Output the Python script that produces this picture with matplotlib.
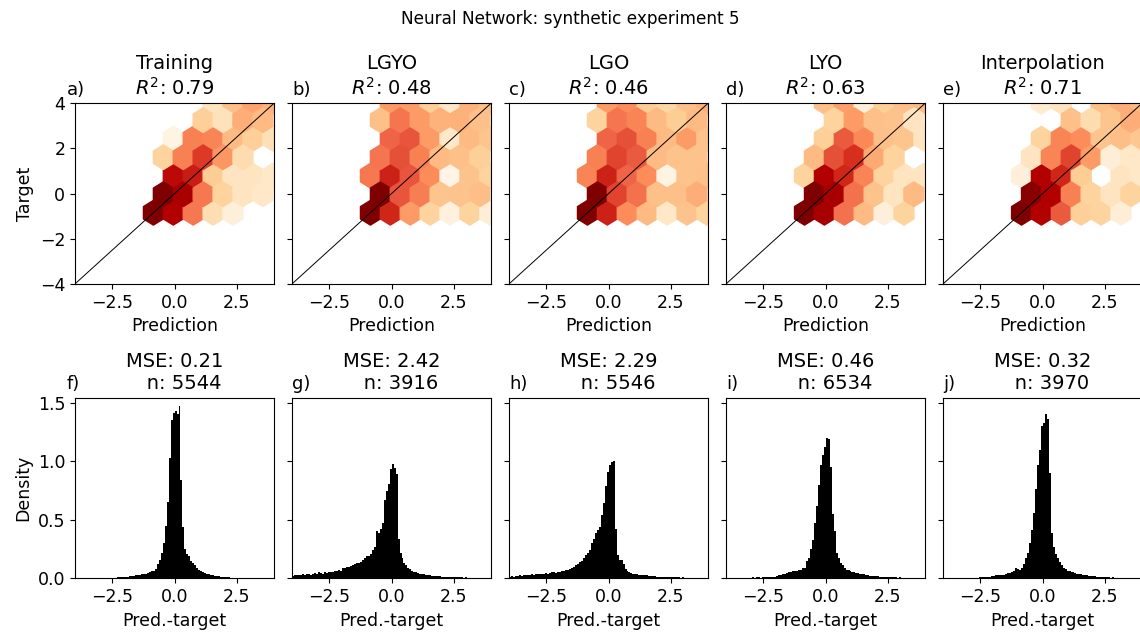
import numpy as np
import matplotlib
matplotlib.use("Agg")
import matplotlib.pyplot as plt

plt.rcParams["font.size"] = 12.5

# panel names and scores
splits = ["Training", "LGYO", "LGO", "LYO", "Interpolation"]
r2_scores = [0.79, 0.48, 0.46, 0.63, 0.71]
mse_scores = [0.21, 2.42, 2.29, 0.46, 0.32]
n_points = [5544, 3916, 5546, 6534, 3970]
top_letters = ["a)", "b)", "c)", "d)", "e)"]
bottom_letters = ["f)", "g)", "h)", "i)", "j)"]

# hexbin cell values (log-count level), rows bottom->top, None = empty cell
# even rows: 7 cells, odd rows (half offset): 6 cells
hex_a = [[8, 7, 4.5, 1.5, 0.5, None, None],
         [8, 7.2, 4.5, 2, 1.2, 1],
         [None, 6.8, 6.4, 2.3, 1.2, 1.2, 1],
         [2, 4.3, 5.8, 3.8, 1.6, None],
         [None, 0.3, 4.3, 4.2, 3, 2.2, 1.4],
         [None, None, 2.2, 1.3, 3.3, 3],
         [None, None, None, 1.2, 2.8, 3.5, 3.2]]
hex_b = [[8, 6.2, 3.7, 2, 0.4, 2, 0.6],
         [8, 5.3, 4.4, 2.6, 2.7, 2.9],
         [4.5, 6.3, 5.3, 4, 0.2, 2.7, 2],
         [4.6, 5.4, 4.3, 3, 2.8, 2.2],
         [None, 5, 5.3, 3.7, 1, 3, 2.6],
         [2.8, 4.6, 3.7, 3.2, 3.2, 2.8],
         [None, 3.7, 3.7, 2.2, 1, 3.2, 2.8]]
hex_c = [[8, 6.3, 4, 3, 1, 2.7, 2],
         [8, 5.6, 4.7, 2.8, 2.8, 3.3],
         [4.2, 6.3, 5, 4, 0.3, 2.7, 2.8],
         [4.3, 5.6, 5.2, 3, 2.7, 2.7],
         [None, 5, 5.4, 4.3, 3, 3.7, 2.7],
         [2, 4.6, 4.2, 3, 2.3, 3],
         [None, 3.7, 4, 2.3, 1.8, 2.8, 3.2]]
hex_d = [[8, 7.2, 4.7, 3, 0.5, 2, None],
         [8, 7.2, 4.7, 2.7, 1.2, 3],
         [2, 7, 6.2, 4.2, 2, 1.2, 1.2],
         [3, 5.4, 6, 3.4, 2, None],
         [None, 2.2, 5.2, 4.1, 2.8, 2.6, 1.2],
         [None, 2, 3.7, 2.8, 2.7, 1.2],
         [None, 2.8, 3.6, 0.5, 2.2, 2.8, 3]]
hex_e = [[8, 7, 5.2, 2.2, 2, 0.6, None],
         [7.8, 7, 4.3, 2, 1.2, 2],
         [0.5, 7, 6.2, 2.3, None, 1.2, 1],
         [1.2, 4.2, 5.6, 3.7, 0.6, 1],
         [None, 2, 4.2, 4, 2.6, 2.9, 2.5],
         [None, None, 2.8, 1.6, 2.6, 3.3],
         [None, 0.8, 1.2, None, 2.8, 3.3, 3]]
hex_grids = [hex_a, hex_b, hex_c, hex_d, hex_e]

# histogram densities, 100 bins of width 0.08 from -4 to 4
hist_f = [0] * 12 + [0.002, 0.0, 0.003, 0.002, 0.004, 0.003, 0.005, 0.004,
          0.006, 0.007, 0.008, 0.01, 0.01,
          0.012, 0.014, 0.016, 0.018, 0.02,
          0.024, 0.028, 0.03, 0.035, 0.033,
          0.04, 0.045, 0.05, 0.06, 0.065,
          0.08, 0.12, 0.16, 0.22, 0.30, 0.45, 0.65, 1.03, 1.35, 1.41, 1.43, 1.40, 1.47,
          0.84, 0.44, 0.25, 0.21, 0.19, 0.15, 0.13, 0.11, 0.09, 0.07, 0.06,
          0.05, 0.045, 0.04, 0.035, 0.03,
          0.025, 0.02, 0.02, 0.018, 0.015,
          0.012, 0.01, 0.01, 0.008, 0.006,
          0.005, 0.006, 0.004, 0.003, 0.004, 0.003, 0.002,
          0.002, 0.003, 0.001, 0.002, 0.001, 0, 0] + [0] * 7
hist_g = [0.02, 0.025, 0.03, 0.025, 0.03, 0.035, 0.03, 0.04, 0.035, 0.03,
          0.04, 0.045, 0.04, 0.05, 0.045, 0.04, 0.05, 0.045, 0.05, 0.05,
          0.055, 0.06, 0.06, 0.07, 0.065,
          0.09, 0.09, 0.1, 0.1, 0.105,
          0.11, 0.12, 0.13, 0.13, 0.14,
          0.16, 0.17, 0.19, 0.19, 0.21,
          0.24, 0.27, 0.40, 0.39, 0.42, 0.47, 0.67, 0.75, 0.81, 0.93, 0.98, 0.94, 0.89,
          0.34, 0.22, 0.17, 0.13, 0.11, 0.09, 0.08,
          0.06, 0.055, 0.05, 0.045, 0.04,
          0.035, 0.033, 0.03, 0.028, 0.025,
          0.022, 0.02, 0.02, 0.018, 0.016,
          0.014, 0.012, 0.012, 0.01, 0.01,
          0.008, 0.01, 0.008, 0.007, 0.009, 0.007, 0.006, 0.008, 0.006, 0.005,
          0.006, 0.005, 0.004, 0.005, 0.004, 0.003, 0.004, 0.003, 0.002, 0.002]
hist_h = [0.015, 0.02, 0.015, 0.02, 0.02, 0.025, 0.02, 0.025, 0.03, 0.025,
          0.03, 0.035, 0.03, 0.04, 0.035, 0.035, 0.04, 0.035, 0.045, 0.04,
          0.045, 0.05, 0.05, 0.045, 0.05,
          0.055, 0.06, 0.065, 0.07, 0.07,
          0.08, 0.09, 0.1, 0.11, 0.12,
          0.14, 0.15, 0.17, 0.2, 0.22,
          0.24, 0.30, 0.34, 0.39, 0.41, 0.44, 0.54, 0.64, 0.79, 0.91, 0.97, 0.99, 1.0,
          0.42, 0.2, 0.16, 0.16, 0.12, 0.08, 0.065,
          0.05, 0.045, 0.04, 0.035, 0.035,
          0.03, 0.03, 0.028, 0.025, 0.025,
          0.02, 0.02, 0.018, 0.016, 0.015,
          0.014, 0.012, 0.013, 0.011, 0.01,
          0.01, 0.009, 0.008, 0.009, 0.007, 0.008, 0.006, 0.007, 0.006, 0.005,
          0.005, 0.006, 0.004, 0.005, 0.004, 0.004, 0.003, 0.004, 0.003, 0.003]
hist_i = [0.003, 0.004, 0.003, 0.005, 0.004, 0.003, 0.005, 0.004, 0.006, 0.005,
          0.004, 0.006, 0.005, 0.007, 0.006,
          0.007, 0.008, 0.006, 0.009, 0.01,
          0.012, 0.01, 0.013, 0.015, 0.014,
          0.02, 0.025, 0.03, 0.035, 0.04,
          0.045, 0.05, 0.055, 0.06, 0.06,
          0.065, 0.07, 0.075, 0.085, 0.09,
          0.15, 0.17, 0.25, 0.33, 0.47, 0.62, 0.8, 0.97, 1.05, 1.12, 1.2, 1.19, 0.95,
          0.55, 0.4, 0.22, 0.17, 0.13, 0.11, 0.09,
          0.075, 0.07, 0.06, 0.055, 0.05,
          0.045, 0.043, 0.04, 0.04, 0.035,
          0.03, 0.025, 0.022, 0.02, 0.018,
          0.02, 0.016, 0.015, 0.012, 0.013,
          0.01, 0.011, 0.009, 0.008, 0.009, 0.007, 0.006, 0.007, 0.005, 0.006,
          0.005, 0.004, 0.005, 0.003, 0.004, 0.003, 0.003, 0.002, 0.002, 0.002]
hist_j = [0, 0, 0, 0.001, 0, 0.002, 0.001, 0.002, 0.002, 0.003,
          0.002, 0.003, 0.004, 0.003, 0.004,
          0.005, 0.006, 0.005, 0.008, 0.009,
          0.012, 0.01, 0.014, 0.015, 0.018,
          0.022, 0.025, 0.028, 0.03, 0.027,
          0.032, 0.04, 0.045, 0.045, 0.05,
          0.06, 0.085, 0.08, 0.075, 0.09,
          0.12, 0.17, 0.22, 0.3, 0.41, 0.56, 0.76, 0.97, 1.1, 1.3, 1.33, 1.4, 1.36,
          0.9, 0.39, 0.27, 0.21, 0.17, 0.14, 0.11, 0.09, 0.08, 0.065, 0.06,
          0.055, 0.05, 0.045, 0.04, 0.04, 0.035,
          0.03, 0.028, 0.025, 0.022, 0.02,
          0.018, 0.016, 0.015, 0.012, 0.01,
          0.01, 0.008, 0.009, 0.007, 0.006, 0.007, 0.005, 0.006, 0.004, 0.005,
          0.004, 0.003, 0.004, 0.003, 0.002, 0.002, 0.003, 0.002, 0.001, 0.001]
hists = [hist_f, hist_g, hist_h, hist_i, hist_j]

# hex lattice of the original hexbin
x0, y0 = -0.85, -0.85
sx, sy = 0.8, 1.64
bin_edges = np.linspace(-4, 4, 101)


def hex_points(grid):
    """Turn a row grid into hexbin centre points and values."""
    xs, ys, cs = [], [], []
    for r, row in enumerate(grid):
        for i, v in enumerate(row):
            if v is None:
                continue
            xs.append(x0 + (i + 0.5 * (r % 2)) * sx)
            ys.append(y0 + r * sy / 2)
            cs.append(v)
    return np.array(xs), np.array(ys), np.array(cs)


fig = plt.figure(figsize=(11.4, 6.35), dpi=100)
gs = fig.add_gridspec(2, 5, left=0.0658, right=1.0019, top=0.8374, bottom=0.0893,
                      wspace=0.0905, hspace=0.63)
top_axes = []
bottom_axes = []
for k in range(5):
    ax = fig.add_subplot(gs[0, k], sharey=top_axes[0] if top_axes else None)
    top_axes.append(ax)
    ax2 = fig.add_subplot(gs[1, k], sharey=bottom_axes[0] if bottom_axes else None)
    bottom_axes.append(ax2)

for k, ax in enumerate(top_axes):
    xs, ys, cs = hex_points(hex_grids[k])
    ax.hexbin(xs, ys, C=cs, gridsize=(6, 3),
              extent=(x0, x0 + 6 * sx, y0, y0 + 3 * sy),
              reduce_C_function=np.sum, cmap="OrRd", vmin=0, vmax=8)
    ax.axline((0, 0), slope=1, color="black", lw=0.7)
    ax.set_xlim(-4, 4)
    ax.set_ylim(-4, 4)
    ax.set_xticks([-2.5, 0, 2.5])
    ax.set_yticks([-4, -2, 0, 2, 4])
    ax.set_xlabel("Prediction")
    ax.set_title(f"{splits[k]}\n$R^2$: {r2_scores[k]:.2f}", fontsize=14)
    ax.set_title(top_letters[k], loc="left", fontsize=13,
                 x=-0.04 if k == 0 else 0.0)
    if k == 0:
        ax.set_ylabel("Target")
    else:
        ax.tick_params(labelleft=False)

for k, ax in enumerate(bottom_axes):
    ax.stairs(hists[k], bin_edges, fill=True, color="black")
    ax.set_xlim(-4, 4)
    ax.set_xticks([-2.5, 0, 2.5])
    ax.set_xlabel("Pred.-target")
    ax.set_title(f"MSE: {mse_scores[k]:.2f}\n   n: {n_points[k]}", fontsize=14)
    ax.set_title(bottom_letters[k], loc="left", fontsize=13,
                 x=-0.04 if k == 0 else 0.0)
    if k == 0:
        ax.set_ylabel("Density")
        ax.set_yticks([0, 0.5, 1.0, 1.5])
    else:
        ax.tick_params(labelleft=False)

fig.suptitle("Neural Network: synthetic experiment 5", fontsize=12.2, y=0.985)

fig.savefig("out.png", dpi=100)
